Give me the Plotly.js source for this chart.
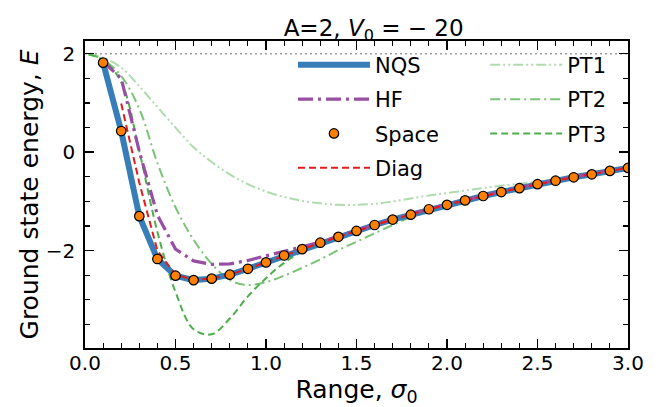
<!DOCTYPE html>
<html>
<head>
<meta charset="utf-8">
<script src="https://cdn.plot.ly/plotly-3.0.1.min.js"></script>
<style>html,body{margin:0;padding:0;background:#fff}#chart{width:659px;height:407px}</style>
</head>
<body>
<div id="chart"></div>
<script>
// ---- data ----
const gridX = [0.1,0.2,0.3,0.4,0.5,0.6,0.7,0.8,0.9,1.0,1.1,1.2,1.3,1.4,1.5,1.6,1.7,1.8,1.9,2.0,2.1,2.2,2.3,2.4,2.5,2.6,2.7,2.8,2.9,3.0];
const nqsY   = [1.82,0.43,-1.30,-2.17,-2.51,-2.60,-2.57,-2.49,-2.37,-2.24,-2.10,-1.97,-1.84,-1.72,-1.60,-1.48,-1.37,-1.27,-1.16,-1.07,-0.98,-0.89,-0.81,-0.73,-0.65,-0.58,-0.51,-0.45,-0.38,-0.32];
const spaceY = [1.82,0.43,-1.30,-2.17,-2.51,-2.60,-2.57,-2.49,-2.37,-2.24,-2.10,-1.97,-1.84,-1.72,-1.60,-1.48,-1.37,-1.27,-1.16,-1.07,-0.98,-0.89,-0.81,-0.73,-0.65,-0.58,-0.51,-0.45,-0.38,-0.32];
const hfY    = [1.84,1.50,0.02,-1.28,-1.97,-2.21,-2.28,-2.27,-2.20,-2.11,-2.02,-1.93,-1.83,-1.71,-1.59,-1.47,-1.36,-1.26,-1.15,-1.06,-0.97,-0.88,-0.80,-0.72,-0.64,-0.57,-0.50,-0.44,-0.37,-0.31];
const diagX  = [0.2,0.3,0.4,0.5,0.6,0.7,0.8,0.9,1.0,1.1,1.2,1.3,1.4,1.5,1.6,1.7,1.8,1.9,2.0,2.1,2.2,2.3,2.4,2.5,2.6,2.7,2.8,2.9,3.0];
const diagY  = [0.99,-0.62,-2.00,-2.49,-2.59,-2.57,-2.49,-2.37,-2.24,-2.10,-1.97,-1.84,-1.72,-1.60,-1.48,-1.37,-1.27,-1.16,-1.07,-0.98,-0.89,-0.81,-0.73,-0.65,-0.58,-0.51,-0.45,-0.38,-0.32];
const ptX    = [0.02,0.1,0.2,0.3,0.4,0.5,0.6,0.7,0.8,0.9,1.0,1.1,1.2,1.3,1.4,1.5,1.6,1.7,1.8,1.9,2.0,2.1,2.2,2.3,2.4,2.5,2.6,2.7,2.8,2.9,3.0];
const pt1Y   = [1.99,1.92,1.72,1.34,0.92,0.50,0.10,-0.20,-0.45,-0.65,-0.80,-0.91,-0.99,-1.04,-1.07,-1.07,-1.05,-1.00,-0.94,-0.88,-0.83,-0.78,-0.73,-0.68,-0.64,-0.60,-0.56,-0.51,-0.45,-0.39,-0.33];
const pt2Y   = [1.99,1.88,1.55,0.88,-0.22,-1.12,-1.78,-2.27,-2.60,-2.70,-2.64,-2.51,-2.35,-2.18,-1.99,-1.82,-1.65,-1.48,-1.32,-1.19,-1.08,-0.99,-0.90,-0.82,-0.74,-0.66,-0.59,-0.52,-0.45,-0.39,-0.33];
const pt3Y   = [1.99,1.87,1.43,0.02,-1.62,-2.84,-3.60,-3.70,-3.38,-2.93,-2.56,-2.25,-2.02,-1.87,-1.74,-1.61,-1.49,-1.38,-1.27,-1.17,-1.07,-0.98,-0.89,-0.81,-0.73,-0.65,-0.58,-0.51,-0.45,-0.38,-0.32];
const refLevel = 2;           // non-interacting reference energy (dotted line)
const xRange = [0, 3];
const yRange = [-3.98, 2.26];

const GREEN = '#4daf4a';
const FONT = 'DejaVu Sans';

const traces = [
  {x: xRange, y: [refLevel, refLevel], mode:'lines', showlegend:false, hoverinfo:'skip',
   line:{color:'#a0a0a0', width:1.6, dash:'2px,3px'}},
  {x: ptX, y: pt1Y, name:'PT1', mode:'lines', legend:'legend2', legendgroup:'p1', legendrank:1,
   line:{color:GREEN, width:2, dash:'10px,3px,2px,3px,2px,3px', shape:'spline'}, opacity:0.45},
  {x: ptX, y: pt2Y, name:'PT2', mode:'lines', legend:'legend2', legendgroup:'p2', legendrank:2,
   line:{color:GREEN, width:2, dash:'10px,4px,2px,4px', shape:'spline'}, opacity:0.75},
  {x: ptX, y: pt3Y, name:'PT3', mode:'lines', legend:'legend2', legendgroup:'p3', legendrank:3,
   line:{color:GREEN, width:2, dash:'7px,4px', shape:'spline'}},
  {x: gridX, y: nqsY, name:'NQS', mode:'lines', legendgroup:'a1', legendrank:1,
   line:{color:'#377eb8', width:6}},
  {x: gridX, y: hfY, name:'HF', mode:'lines', legendgroup:'a2', legendrank:2,
   line:{color:'#984ea3', width:3.2, dash:'15px,5px,3px,5px'}},
  {x: diagX, y: diagY, name:'Diag', mode:'lines', legendgroup:'a4', legendrank:4,
   line:{color:'#e41a1c', width:2, dash:'7px,4px'}},
  {x: gridX, y: spaceY, name:'Space', mode:'markers', legendgroup:'a3', legendrank:3,
   marker:{color:'#ff7f00', size:9.5, line:{color:'#000', width:1.2}}}
];

const axisCommon = {
  showgrid:false, zeroline:false, showline:true, linecolor:'#000', linewidth:1.8,
  mirror:'allticks', ticks:'inside', ticklen:9, tickwidth:1.4, tickcolor:'#000',
  tickfont:{family:FONT, size:20, color:'#000'}
};

const layout = {
  width:659, height:407,
  margin:{l:85, r:31, t:41, b:59},
  paper_bgcolor:'#fff', plot_bgcolor:'#fff',
  font:{family:FONT, color:'#000'},
  title:{text:'A=2, <i>V</i><sub>0</sub> = − 20', font:{family:FONT, size:23, color:'#000'},
         x:0.567, xref:'container', xanchor:'center', y:1, yref:'paper', yanchor:'bottom',
         pad:{b:5}},
  xaxis: Object.assign({}, axisCommon, {
    range:xRange, tick0:0, dtick:0.5, tickformat:'.1f', ticklabelstandoff:-4,
    minor:{ticks:'inside', ticklen:5, tickwidth:1.1, tickcolor:'#000', dtick:0.1, showgrid:false},
    title:{text:'Range, <i>σ</i><sub>0</sub>', font:{family:FONT, size:25, color:'#000'}, standoff:24}
  }),
  yaxis: Object.assign({}, axisCommon, {
    range:yRange, tick0:0, dtick:2, ticklabelstandoff:4,
    minor:{ticks:'inside', ticklen:5, tickwidth:1.1, tickcolor:'#000', dtick:0.5, showgrid:false},
    title:{text:'Ground state energy, <i>E</i>', font:{family:FONT, size:25, color:'#000'}, standoff:0}
  }),
  legend:{x:0.383, y:0.988, xanchor:'left', yanchor:'top', bgcolor:'rgba(0,0,0,0)',
          font:{family:FONT, size:21, color:'#000'}, itemwidth:72, tracegroupgap:4,
          traceorder:'grouped'},
  legend2:{x:0.737, y:0.988, xanchor:'left', yanchor:'top', bgcolor:'rgba(0,0,0,0)',
          font:{family:FONT, size:21, color:'#000'}, itemwidth:72, tracegroupgap:4,
          traceorder:'grouped'}
};

Plotly.newPlot('chart', traces, layout, {displayModeBar:false, staticPlot:true});
</script>
</body>
</html>
